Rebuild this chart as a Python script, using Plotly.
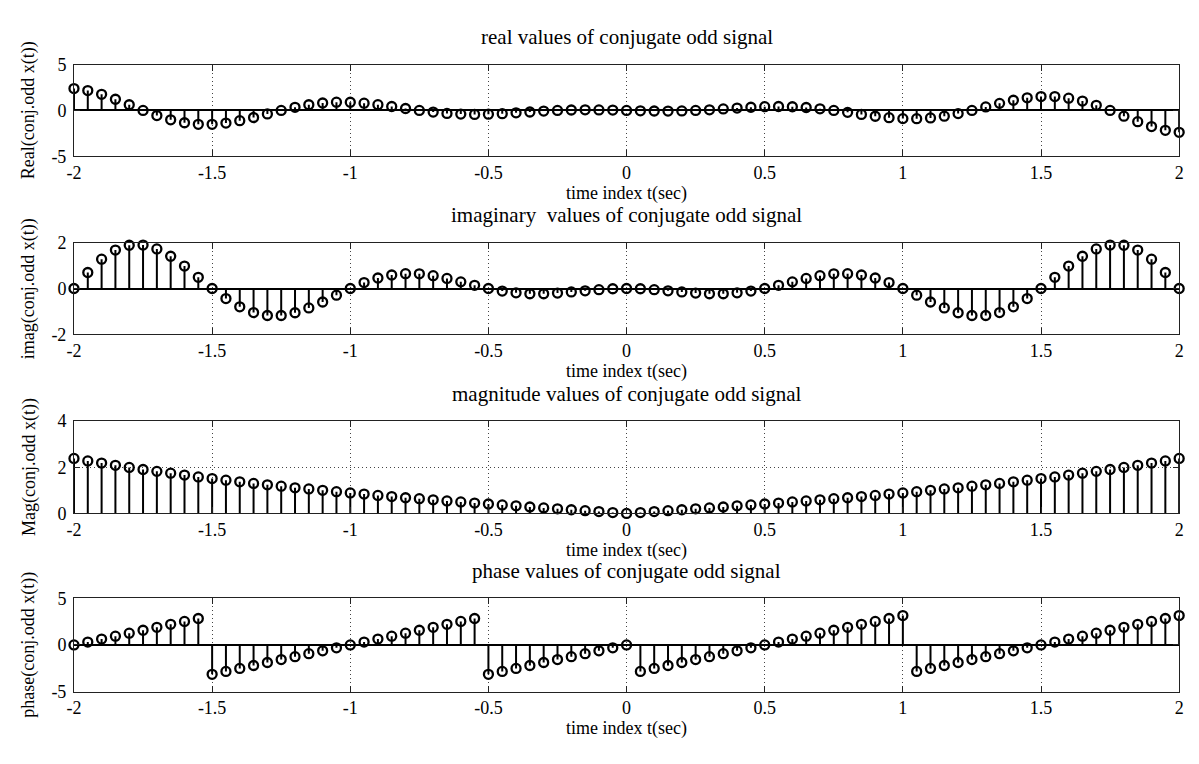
import plotly.graph_objects as go

# Sample instants (seconds)
t = [-2.00, -1.95, -1.90, -1.85, -1.80, -1.75, -1.70, -1.65, -1.60, -1.55,
     -1.50, -1.45, -1.40, -1.35, -1.30, -1.25, -1.20, -1.15, -1.10, -1.05,
     -1.00, -0.95, -0.90, -0.85, -0.80, -0.75, -0.70, -0.65, -0.60, -0.55,
     -0.50, -0.45, -0.40, -0.35, -0.30, -0.25, -0.20, -0.15, -0.10, -0.05,
     0.00, 0.05, 0.10, 0.15, 0.20, 0.25, 0.30, 0.35, 0.40, 0.45,
     0.50, 0.55, 0.60, 0.65, 0.70, 0.75, 0.80, 0.85, 0.90, 0.95,
     1.00, 1.05, 1.10, 1.15, 1.20, 1.25, 1.30, 1.35, 1.40, 1.45,
     1.50, 1.55, 1.60, 1.65, 1.70, 1.75, 1.80, 1.85, 1.90, 1.95, 2.00]

real_vals = [2.38, 2.16, 1.76, 1.22, 0.62, 0.00, -0.56, -1.02, -1.34, -1.51,
             -1.51, -1.37, -1.11, -0.77, -0.38, 0.00, 0.34, 0.62, 0.81, 0.90,
             0.89, 0.79, 0.63, 0.43, 0.21, 0.00, -0.18, -0.32, -0.40, -0.43,
             -0.41, -0.35, -0.26, -0.17, -0.07, 0.00, 0.05, 0.07, 0.06, 0.04,
             0.00, -0.04, -0.06, -0.07, -0.05, 0.00, 0.07, 0.17, 0.26, 0.35,
             0.41, 0.43, 0.40, 0.32, 0.18, 0.00, -0.21, -0.43, -0.63, -0.79,
             -0.89, -0.90, -0.81, -0.62, -0.34, 0.00, 0.38, 0.77, 1.11, 1.37,
             1.51, 1.51, 1.34, 1.02, 0.56, 0.00, -0.62, -1.22, -1.76, -2.16, -2.38]

imag_vals = [0.00, 0.70, 1.28, 1.68, 1.89, 1.90, 1.73, 1.41, 0.98, 0.49,
             0.00, -0.44, -0.80, -1.05, -1.18, -1.18, -1.06, -0.85, -0.59, -0.29,
             0.00, 0.26, 0.46, 0.59, 0.65, 0.64, 0.56, 0.44, 0.29, 0.14,
             0.00, -0.11, -0.19, -0.23, -0.23, -0.20, -0.15, -0.10, -0.05, -0.01,
             0.00, -0.01, -0.05, -0.10, -0.15, -0.20, -0.23, -0.23, -0.19, -0.11,
             0.00, 0.14, 0.29, 0.44, 0.56, 0.64, 0.65, 0.59, 0.46, 0.26,
             0.00, -0.29, -0.59, -0.85, -1.06, -1.18, -1.18, -1.05, -0.80, -0.44,
             0.00, 0.49, 0.98, 1.41, 1.73, 1.90, 1.89, 1.68, 1.28, 0.70, 0.00]

mag_vals = [2.38, 2.27, 2.18, 2.08, 1.99, 1.90, 1.82, 1.74, 1.66, 1.58,
            1.51, 1.44, 1.37, 1.30, 1.24, 1.18, 1.11, 1.06, 1.00, 0.94,
            0.89, 0.84, 0.78, 0.73, 0.68, 0.64, 0.59, 0.54, 0.50, 0.45,
            0.41, 0.37, 0.33, 0.28, 0.24, 0.20, 0.16, 0.12, 0.08, 0.04,
            0.00, 0.04, 0.08, 0.12, 0.16, 0.20, 0.24, 0.28, 0.33, 0.37,
            0.41, 0.45, 0.50, 0.54, 0.59, 0.64, 0.68, 0.73, 0.78, 0.84,
            0.89, 0.94, 1.00, 1.06, 1.11, 1.18, 1.24, 1.30, 1.37, 1.44,
            1.51, 1.58, 1.66, 1.74, 1.82, 1.90, 1.99, 2.08, 2.18, 2.27, 2.38]

phase_vals = [0.00, 0.31, 0.63, 0.94, 1.26, 1.57, 1.88, 2.20, 2.51, 2.83,
              -3.14, -2.83, -2.51, -2.20, -1.88, -1.57, -1.26, -0.94, -0.63, -0.31,
              0.00, 0.31, 0.63, 0.94, 1.26, 1.57, 1.88, 2.20, 2.51, 2.83,
              -3.14, -2.83, -2.51, -2.20, -1.88, -1.57, -1.26, -0.94, -0.63, -0.31,
              0.00, -2.83, -2.51, -2.20, -1.88, -1.57, -1.26, -0.94, -0.63, -0.31,
              0.00, 0.31, 0.63, 0.94, 1.26, 1.57, 1.88, 2.20, 2.51, 2.83,
              3.14, -2.83, -2.51, -2.20, -1.88, -1.57, -1.26, -0.94, -0.63, -0.31,
              0.00, 0.31, 0.63, 0.94, 1.26, 1.57, 1.88, 2.20, 2.51, 2.83, 3.14]

titles = ["real values of conjugate odd signal",
          "imaginary\u00a0 values of conjugate odd signal",
          "magnitude values of conjugate odd signal",
          "phase values of conjugate odd signal"]
ylabels = ["Real(conj.odd x(t))", "imag(conj.odd x(t))",
           "Mag(conj.odd x(t))", "phase(conj.odd x(t))"]
xlabel = "time index t(sec)"
xtick_vals = [-2, -1.5, -1, -0.5, 0, 0.5, 1, 1.5, 2]
xtick_text = ["-2", "-1.5", "-1", "-0.5", "0", "0.5", "1", "1.5", "2"]
y_ranges = [[-5, 5], [-2, 2], [0, 4], [-5, 5]]
y_ticks = [[-5, 0, 5], [-2, 0, 2], [0, 2, 4], [-5, 0, 5]]
series = [real_vals, imag_vals, mag_vals, phase_vals]

# Page geometry in pixels
W, H = 1199, 764
X0, X1 = 66.7, 1184.0
panels_px = [(56.0, 150.3), (239.0, 333.0), (422.0, 517.0), (604.0, 700.0)]
FONT = "Liberation Serif, Times New Roman, serif"


def py(v):
    return 1 - v / H


def stem_xy(x, y):
    xs, ys = [], []
    for a, b in zip(x, y):
        xs += [a, a, None]
        ys += [0, b, None]
    return xs, ys


fig = go.Figure()
annotations = []
layout = {}
for i, (vals, (top, bot)) in enumerate(zip(series, panels_px)):
    n = i + 1
    xa = "x" if n == 1 else f"x{n}"
    ya = "y" if n == 1 else f"y{n}"
    sx, sy = stem_xy(t, vals)
    fig.add_trace(go.Scatter(x=sx, y=sy, mode="lines", xaxis=xa, yaxis=ya,
                             line=dict(color="black", width=2),
                             hoverinfo="skip", showlegend=False))
    fig.add_trace(go.Scatter(x=t, y=vals, mode="markers", xaxis=xa, yaxis=ya,
                             marker=dict(symbol="circle-open", size=9,
                                         color="black",
                                         line=dict(color="black", width=2.3)),
                             cliponaxis=False, showlegend=False))
    axis_common = dict(showline=True, linecolor="#222", linewidth=1,
                       mirror="ticks", ticks="inside", ticklen=6,
                       tickcolor="#222", showgrid=True, gridcolor="#444",
                       gridwidth=1, griddash="1px,3px",
                       tickfont=dict(family=FONT, size=18, color="black"))
    layout["xaxis" if n == 1 else f"xaxis{n}"] = dict(
        axis_common, domain=[X0 / W, X1 / W], range=[-2, 2],
        tickvals=xtick_vals, ticktext=xtick_text, zeroline=False,
        anchor=ya, ticklabelstandoff=0)
    layout["yaxis" if n == 1 else f"yaxis{n}"] = dict(
        axis_common, domain=[py(bot), py(top)], range=y_ranges[i],
        tickvals=y_ticks[i], ticktext=[str(v) for v in y_ticks[i]],
        zeroline=True, zerolinecolor="black", zerolinewidth=1.5,
        anchor=xa, ticklabelstandoff=3)
    cx = (X0 + X1) / 2 / W
    annotations.append(dict(text=titles[i], x=cx, y=py(top - 28), xref="paper",
                            yref="paper", showarrow=False, xanchor="center",
                            yanchor="middle",
                            font=dict(family=FONT, size=21, color="black")))
    annotations.append(dict(text=xlabel, x=cx, y=py(bot + 38), xref="paper",
                            yref="paper", showarrow=False, xanchor="center",
                            yanchor="middle",
                            font=dict(family=FONT, size=18, color="black")))
    annotations.append(dict(text=ylabels[i], x=21 / W, y=py((top + bot) / 2),
                            xref="paper", yref="paper", showarrow=False,
                            textangle=-90, xanchor="center", yanchor="middle",
                            font=dict(family=FONT, size=18, color="black")))

fig.update_layout(**layout)
fig.update_layout(width=W, height=H, margin=dict(l=0, r=0, t=0, b=0),
                  paper_bgcolor="white", plot_bgcolor="white",
                  annotations=annotations, showlegend=False)
fig.write_html("out.html")
